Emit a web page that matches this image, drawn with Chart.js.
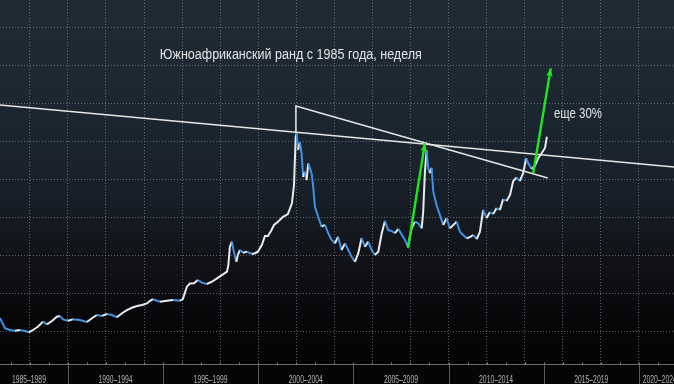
<!DOCTYPE html>
<html>
<head>
<meta charset="utf-8">
<script src="https://cdn.jsdelivr.net/npm/chart.js@4.4.1/dist/chart.umd.min.js"></script>
<style>
    html, body { margin: 0; padding: 0; background: #050505; }
    #wrap { width: 674px; height: 384px; }
</style>
</head>
<body>
<div id="wrap"><canvas id="zarChart" width="674" height="384"></canvas></div>
<script>
"use strict";

// USD/ZAR, weekly (x = decimal year)
var years = [
    1986.43, 1986.58, 1986.69, 1986.95, 1987.22, 1987.48, 1987.74, 1987.95, 1988.16, 1988.42,
    1988.69, 1988.90, 1989.16, 1989.42, 1989.58, 1989.74, 1990.00, 1990.26, 1990.63, 1991.00,
    1991.26, 1991.52, 1991.79, 1992.05, 1992.31, 1992.57, 1992.84, 1993.10, 1993.36, 1993.63,
    1993.89, 1994.15, 1994.31, 1994.47, 1994.83, 1995.20, 1995.52, 1995.89, 1996.04, 1996.25,
    1996.41, 1996.62, 1996.83, 1997.04, 1997.30, 1997.57, 1997.83, 1998.09, 1998.36, 1998.43,
    1998.51, 1998.62, 1998.70, 1998.85, 1998.93, 1999.04, 1999.20, 1999.41, 1999.67, 1999.83,
    1999.98, 2000.19, 2000.35, 2000.51, 2000.67, 2000.83, 2001.04, 2001.30, 2001.56, 2001.77,
    2001.88, 2001.97, 2002.02, 2002.10, 2002.19, 2002.28, 2002.36, 2002.45, 2002.54, 2002.63,
    2002.72, 2002.81, 2002.89, 2002.98, 2003.15, 2003.33, 2003.51, 2003.68, 2003.86, 2004.03,
    2004.20, 2004.38, 2004.56, 2004.73, 2004.91, 2005.08, 2005.26, 2005.43, 2005.61, 2005.78,
    2005.96, 2006.13, 2006.31, 2006.49, 2006.66, 2006.83, 2007.00, 2007.18, 2007.37, 2007.52,
    2007.71, 2007.87, 2008.06, 2008.23, 2008.41, 2008.59, 2008.67, 2008.76, 2008.85, 2008.93,
    2009.02, 2009.11, 2009.20, 2009.37, 2009.55, 2009.72, 2009.90, 2010.07, 2010.25, 2010.43,
    2010.60, 2010.77, 2010.95, 2011.12, 2011.30, 2011.48, 2011.65, 2011.82, 2012.00, 2012.18,
    2012.35, 2012.53, 2012.70, 2012.87, 2013.05, 2013.23, 2013.40, 2013.58, 2013.75, 2013.93,
    2014.08, 2014.19, 2014.37, 2014.54, 2014.71, 2014.89, 2015.07, 2015.17
];
var rates = [
    2.72, 2.41, 2.19, 2.09, 2.05, 2.09, 2.04, 1.97, 2.09, 2.26,
    2.53, 2.39, 2.56, 2.79, 2.83, 2.65, 2.58, 2.65, 2.62, 2.51,
    2.71, 2.88, 2.83, 2.93, 2.88, 2.76, 2.97, 3.14, 3.26, 3.35,
    3.41, 3.49, 3.63, 3.71, 3.58, 3.63, 3.67, 3.63, 3.72, 4.37,
    4.54, 4.55, 4.72, 4.58, 4.51, 4.63, 4.81, 4.98, 5.16, 5.51,
    6.47, 6.74, 6.30, 5.68, 6.04, 6.30, 6.16, 6.21, 6.09, 6.13,
    6.21, 6.56, 7.04, 7.04, 7.30, 7.62, 7.79, 8.05, 8.19, 8.76,
    9.72, 12.26, 12.44, 11.56, 11.98, 11.39, 10.14, 10.42, 9.98, 10.86,
    10.60, 10.30, 9.62, 8.58, 8.05, 7.53, 7.62, 7.18, 6.83, 6.65,
    7.00, 6.30, 6.65, 6.30, 5.95, 5.68, 6.13, 6.92, 6.47, 6.74,
    6.30, 6.04, 6.21, 7.18, 7.83, 7.35, 7.30, 7.19, 7.41, 7.14,
    6.83, 6.47, 7.44, 7.79, 7.71, 7.44, 8.32, 10.42, 11.56, 10.60,
    10.35, 10.62, 9.37, 8.67, 8.14, 7.62, 7.97, 7.44, 7.62, 7.79,
    7.26, 7.09, 6.92, 6.98, 7.09, 6.88, 7.25, 8.41, 7.98, 8.30,
    8.19, 8.51, 8.41, 8.98, 8.88, 9.19, 9.93, 10.12, 9.93, 10.38,
    11.13, 10.86, 10.56, 10.72, 11.13, 11.39, 11.67, 12.26
];

var periodLabels = ['1985–1989', '1990–1994', '1995–1999', '2000–2004',
                    '2005–2009', '2010–2014', '2015–2019', '2020–2024'];
var periodCenters = [1987.95, 1992.5, 1997.5, 2002.5, 2007.5, 2012.5, 2017.5, 2021.1];
var periodEdges = [1990, 1995, 2000, 2005, 2010, 2015, 2020];
var gridYears = [1988, 1990, 1992, 1994, 1996, 1998, 2000, 2002, 2004,
                 2006, 2008, 2010, 2012, 2014, 2016, 2018, 2020];
var gridRates = [2, 4, 6, 8, 10, 12, 14, 16, 18];

// drawn-on lines, as [year, rate]
var trendLong = [[1986.43, 13.93], [2021.85, 10.67]];
var trendPeak = [[2001.98, 12.46], [2001.98, 13.88], [2015.22, 10.09]];
var arrow2008 = [[2007.87, 6.39], [2008.76, 11.92]];
var arrowNext = [[2014.45, 10.34], [2015.37, 15.86]];

var titleText = 'Южноафриканский ранд с 1985 года, неделя';
var titleAt = [1994.83, 16.56];
var noteText = 'еще 30%';
var noteAt = [2015.54, 13.46];

var WHITE = '#e9ecef';
var BLUE = '#3f92e6';
var GREEN = '#1ee61e';

function toPx(chart, p) {
    return [chart.scales.x.getPixelForValue(p[0]), chart.scales.y.getPixelForValue(p[1])];
}

function polyline(ctx, chart, pts, color, width) {
    ctx.save();
    ctx.strokeStyle = color;
    ctx.lineWidth = width;
    ctx.beginPath();
    pts.forEach(function (p, i) {
        var q = toPx(chart, p);
        if (i === 0) ctx.moveTo(q[0], q[1]); else ctx.lineTo(q[0], q[1]);
    });
    ctx.stroke();
    ctx.restore();
}

function arrow(ctx, chart, pts, color, width) {
    var a = toPx(chart, pts[0]), b = toPx(chart, pts[1]);
    var ang = Math.atan2(b[1] - a[1], b[0] - a[0]);
    ctx.save();
    ctx.strokeStyle = color;
    ctx.fillStyle = color;
    ctx.lineWidth = width;
    ctx.beginPath();
    ctx.moveTo(a[0], a[1]);
    ctx.lineTo(b[0], b[1]);
    ctx.stroke();
    ctx.beginPath();
    ctx.moveTo(b[0], b[1]);
    ctx.lineTo(b[0] - 9 * Math.cos(ang - 0.38), b[1] - 9 * Math.sin(ang - 0.38));
    ctx.lineTo(b[0] - 6 * Math.cos(ang), b[1] - 6 * Math.sin(ang));
    ctx.lineTo(b[0] - 9 * Math.cos(ang + 0.38), b[1] - 9 * Math.sin(ang + 0.38));
    ctx.closePath();
    ctx.fill();
    ctx.restore();
}

function squeezeText(ctx, text, x, y, w, font, color, align) {
    ctx.save();
    ctx.font = font;
    ctx.fillStyle = color;
    ctx.textBaseline = 'middle';
    ctx.textAlign = 'left';
    var k = w / ctx.measureText(text).width;
    ctx.translate(align === 'center' ? x - w / 2 : x, y);
    ctx.scale(k, 1);
    ctx.fillText(text, 0, 0);
    ctx.restore();
}

var backdrop = {
    id: 'backdrop',
    beforeDraw: function (chart) {
        var ctx = chart.ctx, a = chart.chartArea;
        ctx.save();
        ctx.fillStyle = '#050505';
        ctx.fillRect(0, 0, chart.width, chart.height);
        var g = ctx.createLinearGradient(0, a.top, 0, a.bottom);
        g.addColorStop(0, '#1f2a35');
        g.addColorStop(0.2, '#1d2832');
        g.addColorStop(0.45, '#1a232d');
        g.addColorStop(0.58, '#161c24');
        g.addColorStop(0.68, '#121419');
        g.addColorStop(0.78, '#0f0e15');
        g.addColorStop(0.86, '#070709');
        g.addColorStop(1, '#040405');
        ctx.fillStyle = g;
        ctx.fillRect(a.left, a.top, a.right - a.left, a.bottom - a.top);
        ctx.restore();
    }
};

var overlay = {
    id: 'overlay',
    afterDatasetsDraw: function (chart) {
        var ctx = chart.ctx, a = chart.chartArea;
        ctx.save();
        ctx.beginPath();
        ctx.rect(a.left, a.top, a.right - a.left, a.bottom - a.top);
        ctx.clip();
        polyline(ctx, chart, trendLong, '#e6e6e6', 1.5);
        polyline(ctx, chart, trendPeak, '#e6e6e6', 1.5);
        arrow(ctx, chart, arrow2008, GREEN, 2.4);
        arrow(ctx, chart, arrowNext, GREEN, 2.4);
        var t = toPx(chart, titleAt);
        squeezeText(ctx, titleText, t[0], t[1], 262, '14px "Liberation Sans"', '#e2e4e6');
        var n = toPx(chart, noteAt);
        squeezeText(ctx, noteText, n[0], n[1], 48, '14px "Liberation Sans"', '#e2e4e6');
        ctx.restore();
    },
    afterDraw: function (chart) {
        var ctx = chart.ctx, a = chart.chartArea, sx = chart.scales.x;
        var yb = Math.round(a.bottom) + 0.5;
        ctx.save();
        ctx.strokeStyle = '#6a6a6a';
        ctx.lineWidth = 1;
        ctx.beginPath();
        ctx.moveTo(a.left, yb);
        ctx.lineTo(a.right, yb);
        ctx.stroke();
        // yearly ticks on the axis
        ctx.strokeStyle = '#8a8a8a';
        for (var yr = 1987; yr <= 2021; yr++) {
            var xx = Math.round(sx.getPixelForValue(yr)) + 0.5;
            ctx.beginPath();
            ctx.moveTo(xx, yb - 2);
            ctx.lineTo(xx, yb);
            ctx.stroke();
        }
        // period separators under the axis
        ctx.strokeStyle = '#5c5c5c';
        periodEdges.forEach(function (e) {
            var xe = Math.round(sx.getPixelForValue(e)) + 0.5;
            ctx.beginPath();
            ctx.moveTo(xe, yb);
            ctx.lineTo(xe, chart.height);
            ctx.stroke();
        });
        periodLabels.forEach(function (lab, i) {
            squeezeText(ctx, lab, sx.getPixelForValue(periodCenters[i]), yb + 15, 34,
                '11px "Liberation Sans"', '#b4b4b4', 'center');
        });
        ctx.restore();
    }
};

var points = years.map(function (y, i) { return { x: y, y: rates[i] }; });
var gridColor = 'rgba(128,136,146,0.7)';

var ctx1 = document.getElementById('zarChart').getContext('2d');
var zarChart = new Chart(ctx1, {
    type: 'line',
    data: {
        datasets: [{
            label: 'USD/ZAR',
            data: points,
            borderColor: WHITE,
            borderWidth: 2,
            pointRadius: 0,
            tension: 0,
            segment: {
                borderColor: function (c) {
                    return c.p1.parsed.y < c.p0.parsed.y ? BLUE : WHITE;
                }
            }
        }]
    },
    options: {
        responsive: false,
        animation: false,
        layout: { padding: { left: 0, right: 0, top: 0, bottom: 20 } },
        plugins: { legend: { display: false }, tooltip: { enabled: false } },
        scales: {
            x: {
                type: 'linear',
                min: 1986.43,
                max: 2021.85,
                afterBuildTicks: function (s) { s.ticks = gridYears.map(function (v) { return { value: v }; }); },
                ticks: { display: false },
                grid: { color: gridColor, lineWidth: 1, drawTicks: false },
                border: { display: false, dash: [1, 2] }
            },
            y: {
                min: 0.3,
                max: 19.46,
                afterBuildTicks: function (s) { s.ticks = gridRates.map(function (v) { return { value: v }; }); },
                ticks: { display: false },
                grid: { color: gridColor, lineWidth: 1, drawTicks: false },
                border: { display: false, dash: [1, 2] }
            }
        }
    },
    plugins: [backdrop, overlay]
});
</script>
</body>
</html>
